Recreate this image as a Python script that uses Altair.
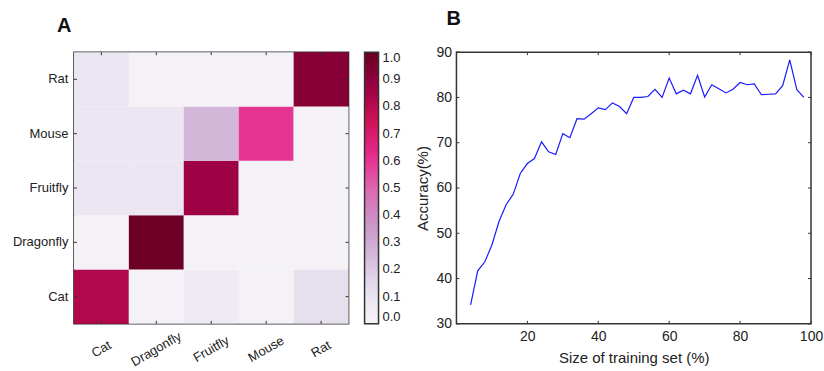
import altair as alt
import pandas as pd

# ---------------- data ----------------
categories = ["Cat", "Dragonfly", "Fruitfly", "Mouse", "Rat"]
# confusion matrix rows = true class, columns = predicted class (order of categories)
row_cat = [0.82, 0.02, 0.06, 0.02, 0.13]
row_dragonfly = [0.02, 0.98, 0.02, 0.02, 0.02]
row_fruitfly = [0.09, 0.09, 0.86, 0.02, 0.02]
row_mouse = [0.09, 0.09, 0.26, 0.60, 0.02]
row_rat = [0.09, 0.02, 0.02, 0.02, 0.92]
colorbar_ticks = [0.0, 0.1, 0.2, 0.3, 0.4, 0.5, 0.6, 0.7, 0.8, 0.9, 1.0]
# PuRd colormap stops
purd_stops = [0.0, 0.125, 0.25, 0.375, 0.5, 0.625, 0.75, 0.875, 1.0]
purd_colors = ["#f7f4f9", "#e7e1ef", "#d4b9da", "#c994c7", "#df65b0",
               "#e7298a", "#ce1256", "#980043", "#67001f"]

train_size = [4, 6, 8, 10, 12, 14, 16, 18, 20, 22, 24, 26, 28, 30, 32, 34,
              36, 38, 40, 42, 44, 46, 48, 50, 52, 54, 56, 58, 60, 62, 64, 66,
              68, 70, 72, 74, 76, 78, 80, 82, 84, 86, 88, 90, 92, 94, 96, 98]
accuracy = [34.2, 41.7, 43.7, 47.4, 52.6, 56.3, 58.6, 63.2, 65.4, 66.5, 70.2, 68.0,
            67.4, 72.0, 71.1, 75.3, 75.2, 76.4, 77.7, 77.3, 78.8, 78.0, 76.4, 80.0,
            80.0, 80.2, 81.8, 80.0, 84.3, 80.8, 81.6, 80.8, 84.9, 80.1, 82.8, 81.9,
            81.0, 81.8, 83.3, 82.8, 83.0, 80.6, 80.7, 80.8, 82.6, 88.3, 81.7, 80.0]
x_ticks = [20, 40, 60, 80, 100]
y_ticks = [30, 40, 50, 60, 70, 80, 90]

matrix = [row_cat, row_dragonfly, row_fruitfly, row_mouse, row_rat]
heat_df = pd.DataFrame(
    [{"true": t, "pred": p, "value": v}
     for t, row in zip(categories, matrix) for p, v in zip(categories, row)]
)
line_df = pd.DataFrame({"size": train_size, "acc": accuracy})
cat_df = pd.DataFrame({"pred": categories, "true": categories})
xt_df = pd.DataFrame({"size": x_ticks})
yt_df = pd.DataFrame({"acc": y_ticks})

FONT = "Liberation Sans"
TXT = "#222222"
FRAME = "#333333"
W1, W2, H = 275, 355, 272
TL = 3  # inward tick length

# ---------------- heatmap (A) ----------------
xs = alt.Scale(domain=categories, paddingInner=0, paddingOuter=0)
ys = alt.Scale(domain=categories[::-1], paddingInner=0, paddingOuter=0)

rect = alt.Chart(heat_df).mark_rect().encode(
    x=alt.X("pred:N", scale=xs, title=None, axis=alt.Axis(
        title=None, labelAngle=330, labelAlign="center", labelBaseline="middle",
        labelPadding=25, labelFontSize=13)),
    y=alt.Y("true:N", scale=ys, title=None, axis=alt.Axis(
        title=None, labelPadding=6, labelFontSize=13)),
    color=alt.Color("value:Q",
                    scale=alt.Scale(domain=purd_stops, range=purd_colors,
                                    interpolate="rgb"),
                    legend=alt.Legend(
                        title=None, orient="right", offset=16, direction="vertical",
                        gradientLength=H, gradientThickness=14,
                        gradientStrokeColor=FRAME, gradientStrokeWidth=1.5,
                        values=colorbar_ticks, format=".1f", labelFontSize=13,
                        labelFont=FONT, labelColor=TXT, labelOffset=4,
                        labelOverlap=False, labelBaseline="middle")),
)

tick_style = dict(color=FRAME, strokeWidth=1)
hb = alt.Chart(cat_df).mark_rule(**tick_style).encode(
    x=alt.X("pred:N", scale=xs, title=None), y=alt.value(H - TL), y2=alt.value(H))
ht = alt.Chart(cat_df).mark_rule(**tick_style).encode(
    x=alt.X("pred:N", scale=xs, title=None), y=alt.value(0), y2=alt.value(TL))
hl = alt.Chart(cat_df).mark_rule(**tick_style).encode(
    y=alt.Y("true:N", scale=ys, title=None), x=alt.value(0), x2=alt.value(TL))
hr = alt.Chart(cat_df).mark_rule(**tick_style).encode(
    y=alt.Y("true:N", scale=ys, title=None), x=alt.value(W1 - TL), x2=alt.value(W1))

heat = alt.layer(rect, hb, ht, hl, hr).properties(
    width=W1, height=H,
    title=alt.TitleParams("A", anchor="start", frame="group", dx=-17, fontSize=20,
                          fontWeight="bold", font=FONT, color="#111111", offset=16),
)

# ---------------- line chart (B) ----------------
xq = alt.Scale(domain=[0, 100], nice=False, zero=False)
yq = alt.Scale(domain=[30, 90], nice=False, zero=False)
XT = "Size of training set (%)"
YT = "Accuracy(%)"

line = alt.Chart(line_df).mark_line(color="#1a1aff", strokeWidth=1.2).encode(
    x=alt.X("size:Q", scale=xq, title=XT, axis=alt.Axis(
        values=x_ticks, title=XT, labelFontSize=14, labelFlush=False,
        labelPadding=6, titleFontSize=15, titlePadding=7)),
    y=alt.Y("acc:Q", scale=yq, title=YT, axis=alt.Axis(
        values=y_ticks, title=YT, labelFontSize=14, labelPadding=5, labelFlush=False,
        titleFontSize=15, titlePadding=5)),
)
lb = alt.Chart(xt_df).mark_rule(**tick_style).encode(
    x=alt.X("size:Q", scale=xq, title=XT), y=alt.value(H - TL), y2=alt.value(H))
lt = alt.Chart(xt_df).mark_rule(**tick_style).encode(
    x=alt.X("size:Q", scale=xq, title=XT), y=alt.value(0), y2=alt.value(TL))
ll = alt.Chart(yt_df).mark_rule(**tick_style).encode(
    y=alt.Y("acc:Q", scale=yq, title=YT), x=alt.value(0), x2=alt.value(TL))
lr = alt.Chart(yt_df).mark_rule(**tick_style).encode(
    y=alt.Y("acc:Q", scale=yq, title=YT), x=alt.value(W2 - TL), x2=alt.value(W2))

acc = alt.layer(line, lb, lt, ll, lr).properties(
    width=W2, height=H,
    title=alt.TitleParams("B", anchor="start", frame="group", dx=-10, fontSize=20,
                          fontWeight="bold", font=FONT, color="#111111", offset=16),
)

chart = alt.hconcat(heat, acc, spacing=12).resolve_scale(
    color="independent"
).resolve_legend(
    color="independent"
).properties(
    padding={"left": 11, "top": 8, "right": 0, "bottom": 0},
    background="white",
).configure_view(
    stroke=FRAME, strokeWidth=1.5
).configure_axis(
    domain=False, ticks=False, tickSize=0, grid=False,
    labelFont=FONT, titleFont=FONT, labelColor=TXT, titleColor=TXT,
    titleFontWeight="normal",
)

chart.save("out.html", embed_options={"renderer": "svg", "actions": False})
